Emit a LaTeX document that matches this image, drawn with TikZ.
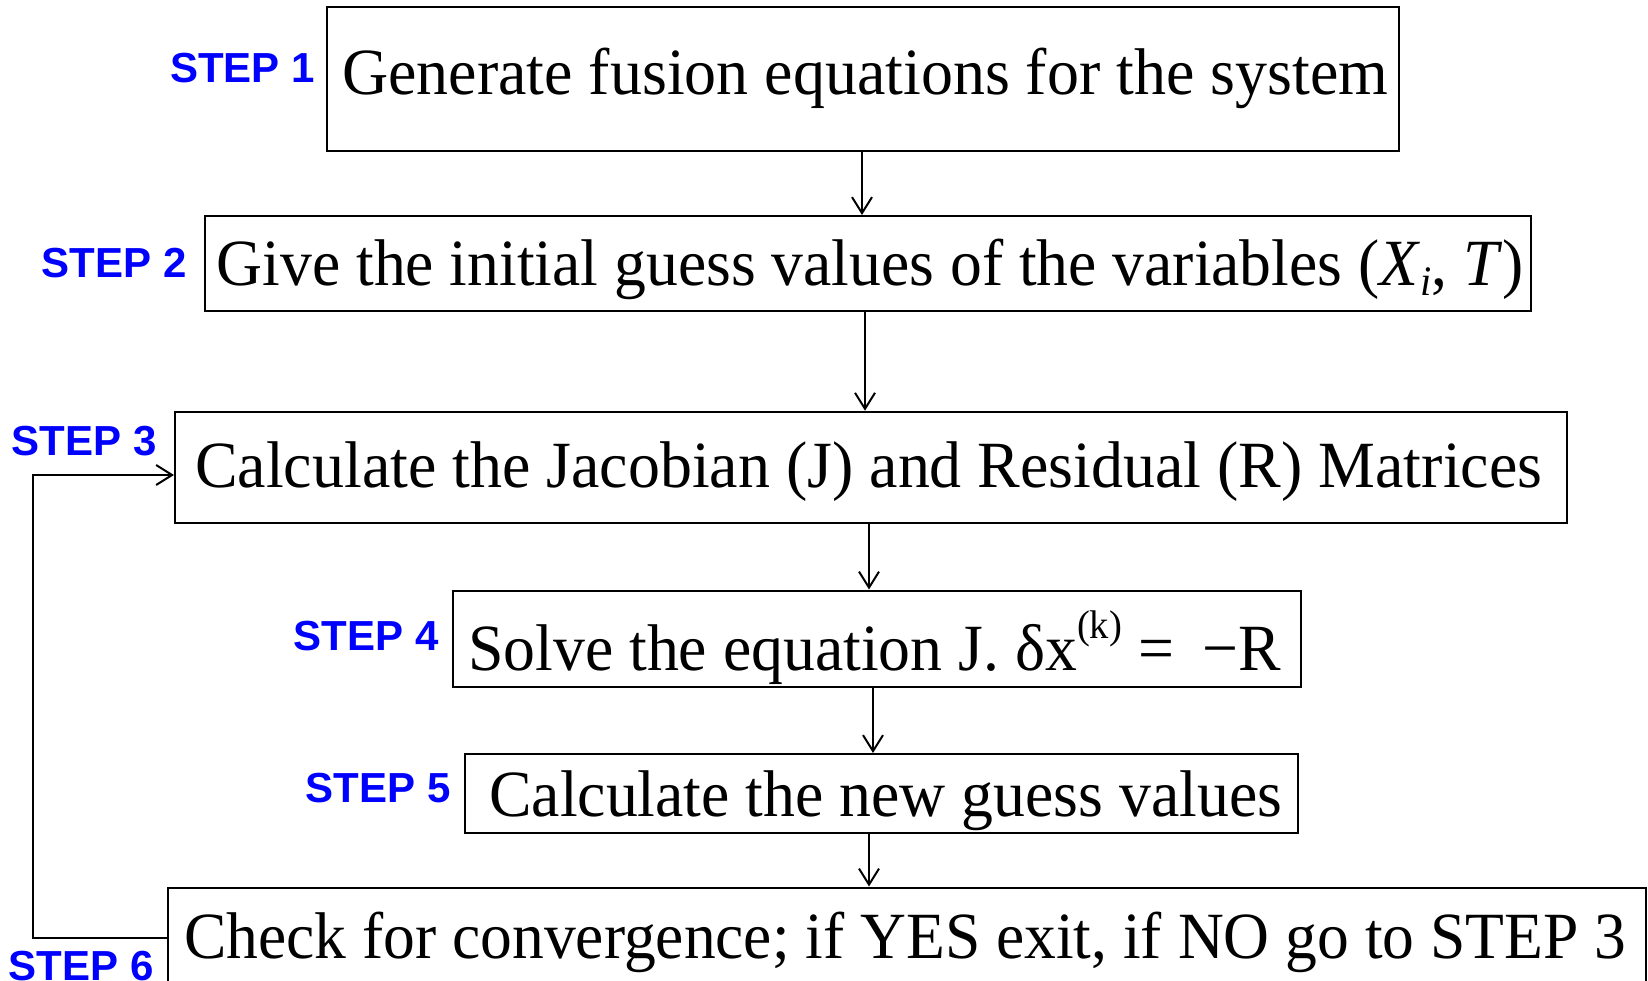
\documentclass[tikz,border=0pt]{standalone}
\usepackage{fontspec}
\usepackage{graphicx}
\setmainfont{Liberation Serif}
\newfontfamily\stepfont{Liberation Sans}
\usetikzlibrary{arrows.meta}
\definecolor{stepblue}{RGB}{0,0,255}
\begin{document}
\begin{tikzpicture}[x=1pt,y=-1pt,
  box/.style={draw, line width=2pt, inner sep=0pt, anchor=north west},
  txt/.style={anchor=base west, inner sep=0pt, font=\fontsize{66}{70}\selectfont},
  steplbl/.style={anchor=base west, inner sep=0pt, text=stepblue, font=\stepfont\bfseries\fontsize{42}{44}\selectfont},
  arr/.style={line width=2pt, -{Straight Barb[length=16pt,width=20pt,line width=2pt]}}]
\clip (0,0) rectangle (1648,981);
% boxes
\node[box, minimum width=1072pt, minimum height=144pt] (b1) at (326,6.5) {};
\node[box, minimum width=1326pt, minimum height=95pt] (b2) at (204,215) {};
\node[box, minimum width=1392pt, minimum height=111pt] (b3) at (174,410.7) {};
\node[box, minimum width=848pt, minimum height=96pt] (b4) at (452,589.5) {};
\node[box, minimum width=833pt, minimum height=79pt] (b5) at (464,753) {};
\node[box, minimum width=1478pt, minimum height=100pt] (b6) at (167,886.5) {};
% texts
\node[txt] (t1) at (342,95) {\resizebox{1046pt}{\height}{Generate fusion equations for the system}};
\node[txt] (t2) at (216.5,286) {\resizebox{1307pt}{\height}{Give the initial guess values of the variables (\textit{X}\raisebox{-10pt}{\fontsize{42}{42}\selectfont\itshape i}, \textit{T})}};
\node[txt] (t3) at (195,487) {\resizebox{1347pt}{\height}{Calculate the Jacobian (J) and Residual (R) Matrices}};
\node[txt] (t4) at (468,670) {\resizebox{813pt}{\height}{Solve the equation J. δx\raisebox{32pt}{\fontsize{40}{40}\selectfont (k)} =\hspace{0.45em}−R}};
\node[txt] (t5) at (489,816) {\resizebox{793pt}{\height}{Calculate the new guess values}};
\node[txt] (t6) at (184,958) {\resizebox{1442pt}{\height}{Check for convergence; if YES exit, if NO go to STEP 3}};
% step labels
\node[steplbl] (s1) at (170,83) {STEP 1};
\node[steplbl] (s2) at (41.5,277.5) {STEP 2};
\node[steplbl] (s3) at (11.5,455) {STEP 3};
\node[steplbl] (s4) at (293.5,650) {STEP 4};
\node[steplbl] (s5) at (305.5,802) {STEP 5};
\node[steplbl] (s6) at (8.5,980) {STEP 6};
% connector columns
\coordinate (a1) at (862,0);
\coordinate (a2) at (865,0);
\coordinate (a3) at (869,0);
\coordinate (a4) at (873,0);
\coordinate (a5) at (869,0);
\coordinate (lp) at (33,475);
\draw[arr] (b1.south -| a1) -- (b2.north -| a1);
\draw[arr] (b2.south -| a2) -- (b3.north -| a2);
\draw[arr] (b3.south -| a3) -- (b4.north -| a3);
\draw[arr] (b4.south -| a4) -- (b5.north -| a4);
\draw[arr] (b5.south -| a5) -- (b6.north -| a5);
\draw[arr] (b6.west) -| (lp) -- (lp -| b3.west);
\end{tikzpicture}
\end{document}
